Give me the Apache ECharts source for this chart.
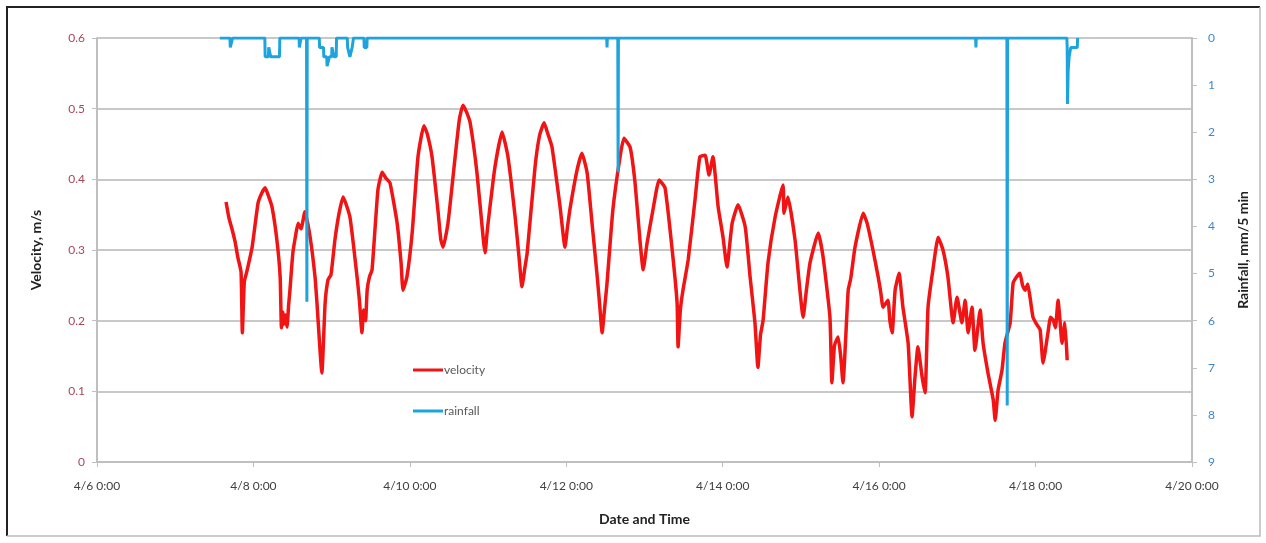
<!DOCTYPE html>
<html><head><meta charset="utf-8">
<script src="https://cdn.jsdelivr.net/npm/echarts@6/dist/echarts.min.js"></script>
<style>html,body{margin:0;padding:0;background:#fff}#c{width:1266px;height:543px}</style>
</head><body><div id="c"></div>
<script>
// hours elapsed since 4/6 0:00
const xTickLabels = ['4/6 0:00','4/8 0:00','4/10 0:00','4/12 0:00','4/14 0:00','4/16 0:00','4/18 0:00','4/20 0:00'];
const velocityTicks = [0,0.1,0.2,0.3,0.4,0.5,0.6];
const rainfallTicks = [0,1,2,3,4,5,6,7,8,9];

const velocity = [
[39.6,0.368],[40.5,0.345],[41.4,0.330],[42.4,0.311],[43.2,0.290],[44.2,0.269],[44.6,0.183],[45.2,0.255],[46.0,0.270],[47.6,0.304],[49.4,0.366],[50.5,0.380],[51.6,0.388],
[52.5,0.378],[53.7,0.361],[55.2,0.314],[56.2,0.262],[56.6,0.190],[57.0,0.212],[57.3,0.195],[57.8,0.208],[58.3,0.191],[58.8,0.222],[59.2,0.243],[60.1,0.296],
[61.0,0.322],[61.7,0.338],[62.6,0.330],[63.8,0.354],[65.4,0.318],[66.9,0.262],[67.5,0.225],[69.0,0.126],[70.0,0.225],[70.9,0.258],
[71.8,0.265],[73.0,0.314],[74.2,0.350],[75.5,0.375],[77.6,0.347],[79.8,0.262],[80.5,0.230],[81.3,0.183],[81.8,0.215],[82.4,0.200],[82.9,0.243],[83.6,0.262],[84.4,0.272],[86.2,0.385],
[87.5,0.410],[88.6,0.402],[89.9,0.395],[92.1,0.338],[93.3,0.282],[93.9,0.243],[95.1,0.262],[96.7,0.324],[98.5,0.432],
[100.3,0.476],[101.3,0.465],[102.8,0.432],[104.6,0.357],[105.5,0.315],[106.2,0.304],[107.7,0.338],[109.9,0.432],[111.2,0.485],[112.3,0.505],[113.4,0.495],[114.5,0.480],
[116.6,0.409],[118.6,0.312],[119.1,0.296],[119.6,0.320],[120.0,0.338],[122.1,0.417],[124.3,0.467],[126.1,0.432],[128.3,0.347],[129.5,0.290],[130.4,0.248],
[131.3,0.275],[132.0,0.296],[134.4,0.417],[135.8,0.462],[137.2,0.480],[138.3,0.465],[139.6,0.446],[142.1,0.361],[143.6,0.304],[144.3,0.330],[145.1,0.357],[147.3,0.413],
[148.8,0.437],[150.4,0.409],[151.9,0.338],[153.4,0.267],[154.2,0.225],[155.0,0.183],[155.7,0.215],[156.5,0.253],[158.3,0.357],[160.5,0.432],
[161.7,0.458],[163.6,0.445],[165.1,0.395],[166.6,0.314],[167.6,0.272],[168.8,0.310],[170.6,0.357],[172.5,0.399],
[174.3,0.388],[176.5,0.300],[178.0,0.225],[178.3,0.163],[179.0,0.215],[179.8,0.243],[181.4,0.286],[183.5,0.371],[185.0,0.432],
[186.6,0.434],[187.8,0.406],[189.0,0.432],[190.6,0.361],[192.1,0.318],[193.3,0.276],[194.9,0.338],[196.7,0.364],
[198.9,0.333],[200.4,0.262],[201.9,0.197],[202.8,0.134],[203.6,0.180],[204.4,0.201],[205.9,0.282],[208.1,0.347],[210.5,0.392],
[210.8,0.352],[212.0,0.375],[214.2,0.314],[216.7,0.205],[217.6,0.240],[218.8,0.282],[221.3,0.324],[222.8,0.290],[224.9,0.205],
[225.5,0.112],[226.3,0.165],[227.4,0.177],[228.2,0.150],[228.9,0.112],[230.5,0.243],[231.3,0.260],[232.6,0.304],[235.1,0.352],[236.3,0.338],[238.1,0.300],
[239.7,0.262],[240.5,0.240],[241.2,0.219],[242.7,0.229],[243.3,0.200],[244.0,0.183],[244.9,0.243],[246.1,0.267],[247.3,0.219],[248.9,0.168],
[250.1,0.064],[251.0,0.120],[251.9,0.163],[253.2,0.120],[254.1,0.098],[255.0,0.219],[256.5,0.272],[258.1,0.318],
[259.6,0.300],[261.1,0.262],[262.7,0.197],[263.9,0.233],[265.4,0.197],[266.4,0.229],[267.3,0.183],[268.5,0.219],
[269.4,0.158],[271.0,0.215],[271.9,0.168],[273.4,0.126],[275.0,0.088],[275.6,0.059],[276.5,0.102],[277.7,0.130],
[278.6,0.168],[280.2,0.197],[281.1,0.253],[282.2,0.262],[283.2,0.267],[284.0,0.250],[284.8,0.243],[285.6,0.252],[286.3,0.233],[287.2,0.205],[288.3,0.195],[289.4,0.187],
[290.3,0.140],[291.8,0.183],[292.6,0.205],[293.4,0.201],[294.1,0.190],[294.9,0.229],[295.5,0.200],[296.1,0.168],[297.0,0.197],[297.7,0.144]
];

const rainfall = [
[37.7,0],[40.8,0],[40.9,0.2],[41.5,0.2],[41.6,0],
[51.5,0],[51.6,0.4],[52.6,0.4],[52.7,0.2],[53.2,0.2],[53.3,0.4],[56.0,0.4],[56.1,0],
[62.0,0],[62.1,0.2],[62.5,0.2],[62.6,0],
[64.3,0],[64.4,5.6],[64.5,0],
[68.2,0],[68.3,0.2],[69.5,0.2],[69.6,0.4],[70.5,0.4],[70.6,0.6],[71.2,0.6],[71.3,0.4],[72.0,0.4],[72.1,0.2],[72.6,0.2],[72.7,0.4],[73.4,0.4],[73.5,0],
[76.8,0],[76.9,0.2],[77.5,0.2],[77.6,0.4],[78.2,0.4],[78.3,0.2],[78.6,0.2],[78.7,0],
[81.9,0],[82.0,0.2],[82.8,0.2],[82.9,0],
[156.4,0],[156.5,0.2],[156.6,0],
[159.8,0],[159.9,2.85],[160.0,0],
[269.6,0],[269.7,0.2],[269.8,0],
[279.2,0],[279.3,7.8],[279.4,0],
[297.6,0],[297.7,0.2],[297.8,1.4],[298.0,0.7],[298.3,0.4],[298.8,0.2],[300.8,0.2],[300.9,0],[301.0,0]
];

const FONT = 'Lato, "Open Sans", sans-serif';
const chart = echarts.init(document.getElementById('c'));
chart.setOption({
  animation: false,
  backgroundColor: '#fff',
  textStyle: {fontFamily: FONT},
  grid: {left: 97, right: 74, top: 38, bottom: 81},
  legend: {
    orient: 'vertical', left: 408, top: 359, icon: 'rect', itemWidth: 30, itemHeight: 3, itemGap: 29,
    data: ['velocity','rainfall'],
    textStyle: {color: '#595959', fontSize: 12, fontFamily: FONT, padding: [0, 0, 0, -4]}
  },
  xAxis: {
    type: 'value', min: 0, max: 336, interval: 48,
    axisLine: {show: true, lineStyle: {color: '#bfbfbf', width: 2}},
    axisTick: {show: true, length: 5, lineStyle: {color: '#bfbfbf', width: 1}},
    splitLine: {show: false},
    axisLabel: {color: '#404040', fontSize: 12, margin: 18, fontFamily: FONT,
      formatter: v => xTickLabels[Math.round(v / 48)] || ''},
    name: 'Date and Time', nameLocation: 'middle', nameGap: 50,
    nameTextStyle: {color: '#222', fontWeight: 'bold', fontSize: 14, fontFamily: FONT}
  },
  yAxis: [{
    type: 'value', min: velocityTicks[0], max: velocityTicks[velocityTicks.length-1], interval: 0.1,
    axisLine: {show: true, lineStyle: {color: '#bfbfbf', width: 2}},
    axisTick: {show: true, length: 5, lineStyle: {color: '#bfbfbf'}},
    splitLine: {show: true, lineStyle: {color: '#c8c8c8', width: 2}},
    axisLabel: {color: '#a8485a', fontSize: 12, margin: 12, fontFamily: FONT,
      formatter: v => v === 0 ? '0' : v.toFixed(1)},
    name: 'Velocity, m/s', nameLocation: 'middle', nameRotate: 90, nameGap: 54,
    nameTextStyle: {color: '#222', fontWeight: 'bold', fontSize: 14, fontFamily: FONT}
  }, {
    type: 'value', position: 'right', inverse: true, min: rainfallTicks[0], max: rainfallTicks[rainfallTicks.length-1], interval: 1,
    axisLine: {show: true, lineStyle: {color: '#bfbfbf', width: 2}},
    axisTick: {show: true, length: 5, lineStyle: {color: '#bfbfbf'}},
    splitLine: {show: false},
    axisLabel: {color: '#3f88c5', fontSize: 12, margin: 16, fontFamily: FONT},
    name: 'Rainfall, mm/5 min', nameLocation: 'middle', nameRotate: 90, nameGap: 44,
    nameTextStyle: {color: '#222', fontWeight: 'bold', fontSize: 14, fontFamily: FONT}
  }],
  series: [{
    name: 'velocity', type: 'line', data: velocity, showSymbol: false, symbol: 'none', smooth: 0.15,
    lineStyle: {color: '#f01414', width: 3.5}, itemStyle: {color: '#f01414'}, z: 2
  }, {
    name: 'rainfall', type: 'line', yAxisIndex: 1, data: rainfall, showSymbol: false, symbol: 'none',
    lineStyle: {color: '#1ea4dc', width: 3}, itemStyle: {color: '#1ea4dc'}, z: 3
  }],
  graphic: [
    {type: 'polyline', shape: {points: [[7,536],[7,7],[1260,7]]}, style: {stroke: '#222', lineWidth: 2, fill: null}},
    {type: 'polyline', shape: {points: [[1260,7],[1260,536],[7,536]]}, style: {stroke: '#bbb', lineWidth: 1.5, fill: null}}
  ]
});
</script></body></html>
